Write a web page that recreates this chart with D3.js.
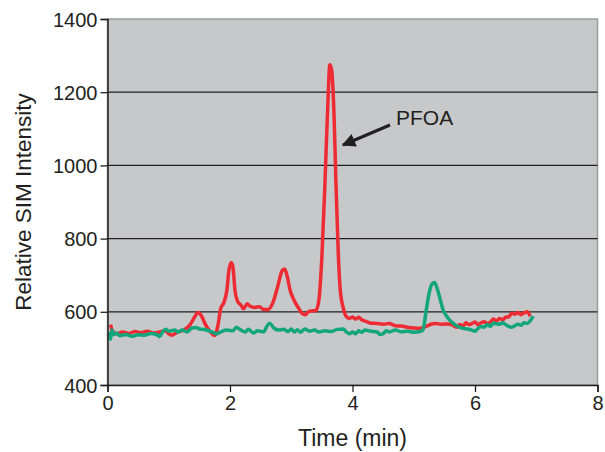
<html>
<head>
<title>SIM chromatogram</title>
<style>
  body { margin: 0; background: #fff; }
  text { font-family: "Liberation Sans", Arial, sans-serif; fill: #231f20; }
</style>
</head>
<body>
<div id="svghere"></div>
<script src="https://cdnjs.cloudflare.com/ajax/libs/d3/7.8.5/d3.min.js"></script>
<script>
// time (min) and intensity
var redTime = [0.05,0.08,0.15,0.25,0.35,0.45,0.55,0.65,0.75,0.85,0.95,1.0,1.05,1.15,1.25,1.35,1.42,1.48,1.53,1.6,1.68,1.75,1.8,1.85,1.9,1.95,1.98,2.02,2.05,2.08,2.12,2.18,2.22,2.28,2.33,2.4,2.48,2.55,2.62,2.7,2.78,2.85,2.89,2.93,2.98,3.05,3.12,3.18,3.23,3.28,3.35,3.4,3.45,3.5,3.55,3.6,3.63,3.66,3.7,3.73,3.77,3.8,3.85,3.9,3.95,4.0,4.05,4.1,4.15,4.22,4.3,4.4,4.5,4.6,4.7,4.8,4.9,5.0,5.1,5.2,5.28,5.35,5.45,5.55,5.62,5.7,5.75,5.8,5.85,5.9,5.95,6.0,6.05,6.1,6.15,6.2,6.25,6.3,6.35,6.4,6.45,6.5,6.55,6.6,6.65,6.7,6.75,6.8,6.85,6.9];
var redValues = [565,548,540,545,541,546,543,547,542,545,548,540,536,545,550,565,585,598,590,565,545,535,560,610,625,660,710,735,720,660,630,618,608,622,615,612,614,606,606,625,670,712,717,700,660,630,610,595,592,600,603,603,630,750,950,1180,1275,1260,1130,950,750,660,610,587,582,586,580,585,578,574,569,568,566,568,562,561,558,556,555,560,566,568,566,567,565,558,565,560,570,565,568,572,565,570,573,568,572,580,575,582,578,585,586,596,593,598,592,597,600,588];

var greenTime = [0.03,0.05,0.07,0.1,0.15,0.2,0.3,0.4,0.5,0.6,0.7,0.8,0.85,0.9,0.95,1.0,1.1,1.15,1.22,1.3,1.38,1.45,1.5,1.6,1.7,1.78,1.85,1.95,2.05,2.1,2.18,2.25,2.3,2.38,2.45,2.55,2.6,2.65,2.72,2.8,2.87,2.95,3.0,3.05,3.1,3.15,3.22,3.3,3.38,3.45,3.55,3.65,3.75,3.85,3.9,3.95,4.0,4.05,4.1,4.15,4.2,4.3,4.4,4.45,4.5,4.55,4.6,4.7,4.8,4.9,5.0,5.1,5.15,5.2,5.25,5.3,5.34,5.38,5.43,5.48,5.54,5.6,5.65,5.72,5.8,5.88,5.95,6.0,6.05,6.1,6.15,6.2,6.25,6.3,6.4,6.45,6.5,6.55,6.6,6.65,6.7,6.75,6.8,6.85,6.9,6.95];
var greenValues = [545,525,550,538,542,535,538,533,537,536,541,538,532,545,552,547,550,545,550,545,556,557,553,551,545,540,545,550,548,558,550,545,552,542,548,545,560,569,555,550,552,546,553,545,551,544,553,547,550,545,548,546,552,553,545,540,545,540,548,544,550,547,545,538,540,548,545,550,545,547,544,546,550,600,650,676,680,665,635,605,587,575,568,560,555,553,550,547,555,560,558,565,560,569,566,570,565,560,558,562,566,563,570,568,575,588];

var xTicks = [0, 2, 4, 6, 8];
var yTicks = [400, 600, 800, 1000, 1200, 1400];

var svg = d3.select("#svghere")
    .append('svg')
    .attr('width', 605)
    .attr('height', 452);

var plotL = 107.5, plotR = 597.5, plotT = 19, plotB = 385;

var x = d3.scaleLinear().domain([0, 8]).range([plotL, plotR]);
var y = d3.scaleLinear().domain([400, 1400]).range([plotB, plotT]);

// plot background
svg.append('rect')
    .attr('x', plotL).attr('y', plotT)
    .attr('width', plotR - plotL).attr('height', plotB - plotT)
    .attr('fill', '#c7c8ca')
    .attr('stroke', '#9c9d9f')
    .attr('stroke-width', 1.5);

// gridlines
svg.selectAll('line.grid')
    .data(yTicks.slice(1, -1))
    .enter()
    .append('line')
    .attr('class', 'grid')
    .attr('x1', plotL).attr('x2', plotR)
    .attr('y1', function(d) { return y(d); })
    .attr('y2', function(d) { return y(d); })
    .style('stroke', '#231f20')
    .style('stroke-width', 1.2);

var line = d3.line()
    .x(function(d) { return x(d[0]); })
    .y(function(d) { return y(d[1]); })
    .curve(d3.curveMonotoneX);

var red = d3.zip(redTime, redValues);
var green = d3.zip(greenTime, greenValues);

svg.append('path')
    .datum(red)
    .attr('d', line)
    .attr('fill', 'none')
    .style('stroke', '#ee2a33')
    .style('stroke-width', 3.5)
    .style('stroke-linejoin', 'round');

svg.append('path')
    .datum(green)
    .attr('d', line)
    .attr('fill', 'none')
    .style('stroke', '#13a57b')
    .style('stroke-width', 3.5)
    .style('stroke-linejoin', 'round');

// axes
var xAxis = svg.append('g')
    .attr('transform', 'translate(0,' + plotB + ')')
    .call(d3.axisBottom(x).tickValues(xTicks).tickFormat(d3.format('d')).tickSize(7).tickPadding(4));
var yAxis = svg.append('g')
    .attr('transform', 'translate(' + plotL + ',0)')
    .call(d3.axisLeft(y).tickValues(yTicks).tickFormat(d3.format('d')).tickSize(7).tickPadding(3));

[xAxis, yAxis].forEach(function(g) {
    g.select('.domain').style('stroke', '#231f20').style('stroke-width', 1.5);
    g.selectAll('.tick line').style('stroke', '#231f20').style('stroke-width', 1.3);
    g.selectAll('.tick text')
        .style('font-family', '"Liberation Sans", Arial, sans-serif')
        .style('font-size', '20px')
        .style('fill', '#231f20');
});
yAxis.selectAll('.tick text').attr('dy', '0.35em');

// titles
svg.append('text')
    .attr('x', (plotL + plotR) / 2)
    .attr('y', 446)
    .attr('text-anchor', 'middle')
    .style('font-size', '23px')
    .text('Time (min)');

svg.append('text')
    .attr('transform', 'translate(31,' + ((plotT + plotB) / 2) + ') rotate(-90)')
    .attr('text-anchor', 'middle')
    .style('font-size', '22.5px')
    .text('Relative SIM Intensity');

// annotation
svg.append('defs').append('marker')
    .attr('id', 'arrow')
    .attr('viewBox', '0 0 10 10')
    .attr('refX', 9).attr('refY', 5)
    .attr('markerWidth', 5).attr('markerHeight', 4.5)
    .attr('orient', 'auto')
    .append('path')
    .attr('d', 'M0,0 L10,5 L0,10 Z')
    .attr('fill', '#231f20');

svg.append('line')
    .attr('x1', 390).attr('y1', 125)
    .attr('x2', 343).attr('y2', 145)
    .style('stroke', '#231f20')
    .style('stroke-width', 3)
    .attr('marker-end', 'url(#arrow)');

svg.append('text')
    .attr('x', 396)
    .attr('y', 124.5)
    .style('font-size', '21px')
    .text('PFOA');
</script>
</body>
</html>
